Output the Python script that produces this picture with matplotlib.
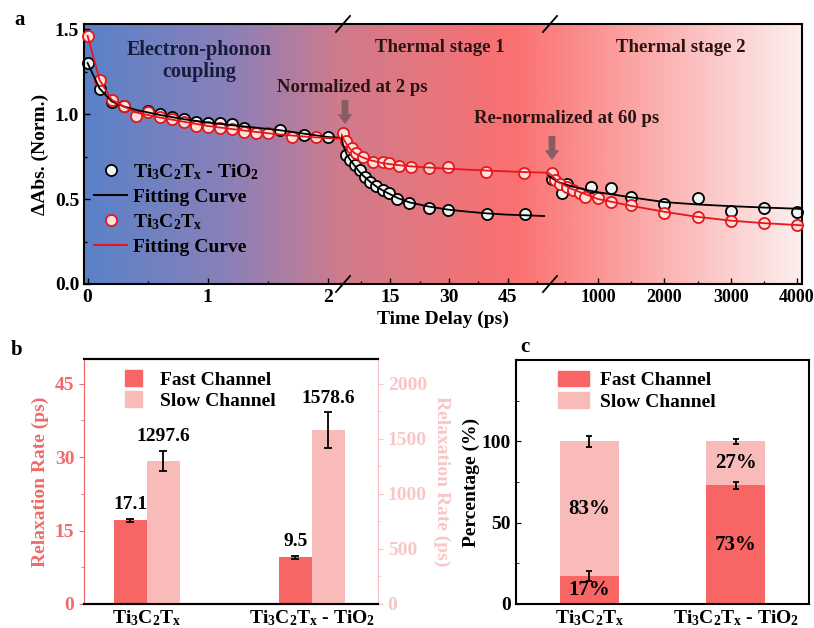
import matplotlib
matplotlib.use('Agg')
import matplotlib.pyplot as plt
import numpy as np
from matplotlib.colors import LinearSegmentedColormap
from matplotlib.lines import Line2D
from matplotlib.patches import Patch

plt.rcParams['font.family'] = ['Liberation Serif', 'DejaVu Serif']
plt.rcParams['font.weight'] = 'bold'
plt.rcParams['axes.labelweight'] = 'bold'
plt.rcParams['font.size'] = 14
plt.rcParams['mathtext.fontset'] = 'custom'
plt.rcParams['mathtext.rm'] = 'Liberation Serif:bold'
plt.rcParams['mathtext.it'] = 'Liberation Serif:bold'
plt.rcParams['mathtext.bf'] = 'Liberation Serif:bold'
plt.rcParams['mathtext.default'] = 'rm'

# ---- panel a data: three time windows of the broken axis ----
# window 1 (0-2 ps)
t1_tio2 = [0, 0.1, 0.2, 0.3, 0.5, 0.6, 0.7, 0.8, 0.9, 1.0, 1.1, 1.2, 1.3, 1.6, 1.8, 2.0]
y1_tio2 = [1.30, 1.15, 1.07, 1.05, 1.02, 1.00, 0.985, 0.97, 0.955, 0.947, 0.95, 0.94, 0.92, 0.906, 0.876, 0.864]
t1_mx = [0, 0.1, 0.2, 0.3, 0.4, 0.5, 0.6, 0.7, 0.8, 0.9, 1.0, 1.1, 1.2, 1.3, 1.4, 1.5, 1.7, 1.9]
y1_mx = [1.46, 1.20, 1.08, 1.05, 0.99, 1.01, 0.98, 0.97, 0.955, 0.93, 0.925, 0.92, 0.915, 0.896, 0.89, 0.89, 0.866, 0.866]
tf1 = [0, 0.1, 0.2, 0.3, 0.4, 0.6, 0.8, 1.0, 1.2, 1.4, 1.6, 1.8, 2.0, 2.11]
fit1_tio2 = [1.30, 1.15, 1.075, 1.045, 1.025, 0.995, 0.97, 0.95, 0.935, 0.92, 0.905, 0.885, 0.865, 0.86]
fit1_mx = [1.46, 1.20, 1.085, 1.045, 1.01, 0.98, 0.955, 0.93, 0.912, 0.895, 0.88, 0.868, 0.858, 0.855]

# window 2 (2-55 ps)
t2_tio2 = [3.9, 4.8, 6.0, 7.3, 8.5, 9.8, 11.4, 13.1, 14.8, 16.8, 19.8, 24.8, 29.8, 39.6, 49.3]
y2_tio2 = [0.76, 0.73, 0.70, 0.67, 0.63, 0.60, 0.576, 0.553, 0.533, 0.50, 0.475, 0.45, 0.435, 0.41, 0.41]
t2_mx = [3.0, 3.9, 5.2, 6.4, 8.1, 10.6, 13.1, 14.8, 17.3, 20.2, 24.8, 29.8, 39.3, 49.1]
y2_mx = [0.89, 0.84, 0.80, 0.77, 0.75, 0.72, 0.72, 0.71, 0.694, 0.69, 0.68, 0.686, 0.66, 0.655]
tf2_tio2 = [2.6, 3, 4, 5, 6, 7, 8, 10, 12, 14, 17, 20, 25, 30, 35, 40, 45, 50, 54.2]
fit2_tio2 = [0.87, 0.82, 0.76, 0.725, 0.695, 0.665, 0.64, 0.60, 0.565, 0.54, 0.505, 0.48, 0.455,
             0.437, 0.425, 0.415, 0.408, 0.404, 0.40]
tf2_mx = [2.6, 3, 4, 5, 6, 8, 10, 13, 16, 20, 25, 30, 40, 50, 55.2]
fit2_mx = [0.88, 0.86, 0.82, 0.79, 0.77, 0.745, 0.728, 0.712, 0.702, 0.693, 0.685, 0.678, 0.667, 0.658, 0.655]

# window 3 (up to 4000 ps)
t3_tio2 = [300, 450, 530, 900, 1200, 1500, 2000, 2500, 3000, 3500, 4000]
y3_tio2 = [0.62, 0.533, 0.59, 0.573, 0.563, 0.51, 0.47, 0.505, 0.432, 0.449, 0.426]
t3_mx = [300, 350, 430, 530, 630, 730, 800, 1000, 1200, 1500, 2000, 2500, 3000, 3500, 4000]
y3_mx = [0.651, 0.61, 0.59, 0.573, 0.553, 0.533, 0.514, 0.504, 0.484, 0.465, 0.42, 0.392, 0.372, 0.36, 0.347]
tf3 = [246, 300, 400, 600, 800, 1000, 1500, 2000, 2500, 3000, 3500, 4000, 4075]
fit3_tio2 = [0.64, 0.625, 0.60, 0.575, 0.555, 0.54, 0.51, 0.482, 0.468, 0.458, 0.45, 0.443, 0.44]
fit3_mx = [0.655, 0.64, 0.60, 0.56, 0.53, 0.50, 0.46, 0.425, 0.395, 0.373, 0.358, 0.347, 0.345]

# ---- panels b and c ----
categories = ['Ti$_3$C$_2$T$_x$', 'Ti$_3$C$_2$T$_x$ - TiO$_2$']
fast_rate = [17.1, 9.5]
fast_rate_err = [0.3, 0.3]
slow_rate = [1297.6, 1578.6]
slow_rate_err = [90, 160]
fast_pct = [17, 73]
slow_pct = [83, 27]
fast_pct_err = [3, 2]
total_pct_err = [3.3, 1.5]

fast_color = '#f76565'
slow_color = '#f9baba'
red = '#e8161c'

W, H = 814, 628
fig = plt.figure(figsize=(W / 100, H / 100), dpi=100)


def box(x0, y0, x1, y1):
    # pixel box (top-left origin) -> figure fraction rect
    return [x0 / W, 1 - y1 / H, (x1 - x0) / W, (y1 - y0) / H]


def fx(px):
    return px / W


def fy(py):
    return 1 - py / H


# ---------------- panel a ----------------
ax_bg = fig.add_axes(box(84, 24, 802, 284), zorder=0)
cmap = LinearSegmentedColormap.from_list('bg', [(0, '#5a82c9'), (0.2, '#8a80b8'), (0.36, '#d07b8c'),
                                               (0.6, '#fb7070'), (0.78, '#fba9a9'), (1.0, '#fdeeee')])
ax_bg.imshow(np.linspace(0, 1, 256)[None, :], cmap=cmap, aspect='auto', extent=[0, 1, 0, 1])
ax_bg.axis('off')

segs = [(84, 341), (341, 548), (548, 802)]
axs = [fig.add_axes(box(x0, 24, x1, 284), zorder=1) for x0, x1 in segs]
xlims = [(-0.03, 2.11), (2.5, 55.2), (246, 4075)]
series = [
    (t1_tio2, y1_tio2, t1_mx, y1_mx, tf1, fit1_tio2, tf1, fit1_mx),
    (t2_tio2, y2_tio2, t2_mx, y2_mx, tf2_tio2, fit2_tio2, tf2_mx, fit2_mx),
    (t3_tio2, y3_tio2, t3_mx, y3_mx, tf3, fit3_tio2, tf3, fit3_mx),
]
for ax, lim, s in zip(axs, xlims, series):
    ta, ya, tb, yb, tfa, fa, tfb, fb = s
    ax.set_facecolor('none')
    ax.set_xlim(*lim)
    ax.set_ylim(0, 1.53)
    ax.plot(ta, ya, 'o', ms=8, mfc='#eef6f2', mec='black', mew=1.3, zorder=2, clip_on=False)
    ax.plot(tb, yb, 'o', ms=8, mfc='#fce4dc', mec=red, mew=1.3, zorder=3, clip_on=False)
    ax.plot(tfa, fa, '-', color='black', lw=1.3, zorder=4)
    ax.plot(tfb, fb, '-', color=red, lw=1.3, zorder=5)
    for sp in ax.spines.values():
        sp.set_linewidth(1.5)
    ax.tick_params(direction='in', which='major', length=4, width=1)
    ax.tick_params(direction='in', which='minor', length=2, width=1)

axs[0].spines['right'].set_visible(False)
axs[1].spines['left'].set_visible(False)
axs[1].spines['right'].set_visible(False)
axs[2].spines['left'].set_visible(False)
for ax in axs[1:]:
    ax.tick_params(which='both', left=False, labelleft=False)
axs[2].tick_params(axis='x', labelsize=13)

axs[0].set_xticks([0, 1, 2])
axs[0].set_xticks([0.5, 1.5], minor=True)
axs[0].set_yticks([0, 0.5, 1.0, 1.5])
axs[0].set_yticklabels(['0.0', '0.5', '1.0', '1.5'])
axs[0].set_yticks([0.25, 0.75, 1.25], minor=True)
axs[1].set_xticks([15, 30, 45])
axs[1].set_xticks([7.5, 22.5, 37.5, 52.5], minor=True)
axs[2].set_xticks([1000, 2000, 3000, 4000])
axs[2].set_xticks([500, 1500, 2500, 3500], minor=True)
axs[0].set_ylabel('ΔAbs. (Norm.)', labelpad=4)

# break marks
for xb in (343, 550):
    for yb in (24, 284):
        fig.add_artist(Line2D([fx(xb - 7), fx(xb + 7)], [fy(yb + 8), fy(yb - 8)],
                              transform=fig.transFigure, color='black', lw=1.3, zorder=10))

legend_handles = [
    Line2D([], [], ls='none', marker='o', ms=8, mfc='#eef6f2', mec='black', mew=1.3),
    Line2D([], [], color='black', lw=1.5),
    Line2D([], [], ls='none', marker='o', ms=8, mfc='#fce4dc', mec=red, mew=1.3),
    Line2D([], [], color=red, lw=1.5),
]
legend_labels = ['Ti$_3$C$_2$T$_x$ - TiO$_2$', 'Fitting Curve', 'Ti$_3$C$_2$T$_x$', 'Fitting Curve']
axs[0].legend(legend_handles, legend_labels, loc='upper left', bbox_to_anchor=(0.04, 0.47),
              frameon=False, handlelength=1.7, handletextpad=0.3, labelspacing=0.33, borderpad=0,
              borderaxespad=0)

fig.text(fx(199), fy(61), 'Electron-phonon\ncoupling', ha='center', va='center', color='#161c3a',
         linespacing=1.1, fontsize=14.5)
fig.text(fx(440), fy(48), 'Thermal stage 1', ha='center', va='center', color='#2a1414', fontsize=13.5)
fig.text(fx(681), fy(48), 'Thermal stage 2', ha='center', va='center', color='#2a1414', fontsize=13.5)
fig.text(fx(352), fy(88), 'Normalized at 2 ps', ha='center', va='center', color='#2a1414', fontsize=13.5)
fig.text(fx(567), fy(118), 'Re-normalized at 60 ps', ha='center', va='center', color='#2a1414',
         fontsize=13.5)
for xa, y0, y1 in ((345, 100, 124), (552, 136, 160)):
    ax_bg.annotate('', xy=(fx(xa), fy(y1)), xytext=(fx(xa), fy(y0)), xycoords='figure fraction',
                   arrowprops=dict(arrowstyle='simple,head_length=0.5,head_width=0.75,tail_width=0.35',
                                   color='#8a5c62', lw=0, shrinkA=0, shrinkB=0))
fig.text(fx(443), fy(319), 'Time Delay (ps)', ha='center', va='center')

# ---------------- panel b ----------------
xpos = np.arange(len(categories))
bw = 0.2
ax_b = fig.add_axes(box(84, 359, 378, 604))
ax_b2 = ax_b.twinx()
ekw = dict(ecolor='black', elinewidth=1.3, capthick=1.3)
ax_b.bar(xpos - bw / 2, fast_rate, bw, color=fast_color, yerr=fast_rate_err, capsize=3, error_kw=ekw)
ax_b2.bar(xpos + bw / 2, slow_rate, bw, color=slow_color, yerr=slow_rate_err, capsize=3, error_kw=ekw)
ax_b.set_xlim(-0.38, 1.4)
ax_b.set_ylim(0, 50)
ax_b2.set_ylim(0, 2000 * 50 / 45)
ax_b.set_yticks([0, 15, 30, 45])
ax_b.set_yticks([7.5, 22.5, 37.5], minor=True)
ax_b2.set_yticks([0, 500, 1000, 1500, 2000])
ax_b2.set_yticks([250, 750, 1250, 1750], minor=True)
ax_b.set_xticks(xpos)
ax_b.set_xticklabels(categories)
ax_b.tick_params(axis='x', length=0, pad=3)
ax_b.tick_params(axis='y', which='both', colors='#f26a6a', direction='out')
ax_b.tick_params(axis='y', which='minor', length=2)
ax_b2.tick_params(axis='y', which='both', colors='#f8c6c6', direction='out')
ax_b2.tick_params(axis='y', which='minor', length=2)
ax_b.set_ylabel('Relaxation Rate (ps)', color='#f26a6a', labelpad=4)
ax_b2.set_ylabel('Relaxation Rate (ps)', color='#f8c6c6', rotation=270, labelpad=17)
for a in (ax_b, ax_b2):
    a.spines['top'].set_linewidth(1.5)
    a.spines['bottom'].set_linewidth(1.5)
    a.spines['left'].set_color('#f26a6a')
    a.spines['right'].set_color('#f8c6c6')
for i in range(len(categories)):
    ax_b.annotate(f'{fast_rate[i]}', (xpos[i] - bw / 2, fast_rate[i] + fast_rate_err[i]),
                  xytext=(0, 4), textcoords='offset points', ha='center', va='bottom')
    ax_b2.annotate(f'{slow_rate[i]}', (xpos[i] + bw / 2, slow_rate[i] + slow_rate_err[i]),
                   xytext=(0, 4), textcoords='offset points', ha='center', va='bottom')
ax_b2.legend([Patch(color=fast_color), Patch(color=slow_color)], ['Fast Channel', 'Slow Channel'],
             loc='upper left', bbox_to_anchor=(0.14, 0.955), frameon=False, handlelength=0.85,
             handleheight=0.85, handletextpad=0.95, labelspacing=0.15, borderpad=0, borderaxespad=0)

# ---------------- panel c ----------------
ax_c = fig.add_axes(box(516, 360, 809, 604))
ax_c.bar(xpos, fast_pct, 0.4, color=fast_color)
ax_c.bar(xpos, slow_pct, 0.4, bottom=fast_pct, color=slow_color)
ekc = dict(fmt='none', ecolor='black', elinewidth=1.3, capthick=1.3, capsize=2.5)
ax_c.errorbar(xpos, fast_pct, yerr=fast_pct_err, **ekc)
ax_c.errorbar(xpos, [f + s for f, s in zip(fast_pct, slow_pct)], yerr=total_pct_err, **ekc)
for i in range(len(categories)):
    ax_c.text(xpos[i], fast_pct[i] / 2, f'{fast_pct[i]}%', ha='center', va='center', fontsize=15)
    ax_c.text(xpos[i], fast_pct[i] + slow_pct[i] / 2, f'{slow_pct[i]}%', ha='center', va='center',
              fontsize=15)
ax_c.set_xlim(-0.5, 1.5)
ax_c.set_ylim(0, 150)
ax_c.set_yticks([0, 50, 100])
ax_c.set_yticks([25, 75, 125], minor=True)
ax_c.set_xticks(xpos)
ax_c.set_xticklabels(categories)
ax_c.tick_params(axis='x', length=0, pad=3)
ax_c.tick_params(axis='y', which='both', direction='in')
ax_c.tick_params(axis='y', which='minor', length=2)
ax_c.set_ylabel('Percentage (%)', labelpad=1)
for sp in ax_c.spines.values():
    sp.set_linewidth(1.5)
ax_c.legend([Patch(color=fast_color), Patch(color=slow_color)], ['Fast Channel', 'Slow Channel'],
            loc='upper left', bbox_to_anchor=(0.145, 0.955), frameon=False, handlelength=1.55,
            handleheight=0.85, handletextpad=0.6, labelspacing=0.15, borderpad=0, borderaxespad=0)

fig.text(fx(20), fy(20), 'a', ha='center', va='center', fontsize=15)
fig.text(fx(17), fy(350), 'b', ha='center', va='center', fontsize=15)
fig.text(fx(525), fy(347), 'c', ha='center', va='center', fontsize=15)

fig.savefig('out.png', dpi=100)
